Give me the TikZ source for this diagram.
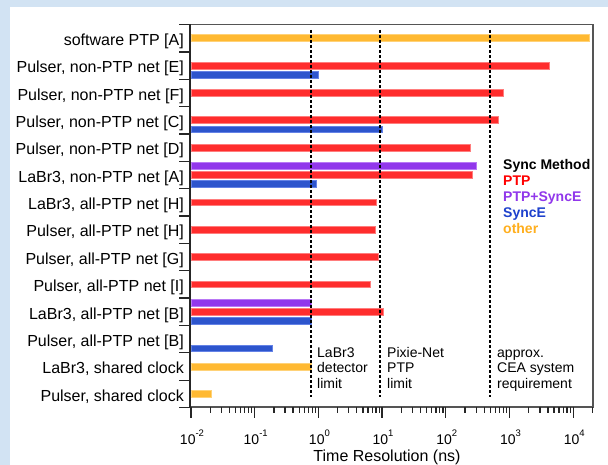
\documentclass[tikz,border=0pt]{standalone}
\usepackage{fontspec}
\setmainfont{Liberation Sans}
\definecolor{bgblue}{RGB}{210,227,243}
\definecolor{cptp}{RGB}{255,45,45}
\definecolor{cptpl}{RGB}{255,125,125}
\definecolor{cboth}{RGB}{145,55,235}
\definecolor{cbothl}{RGB}{185,120,245}
\definecolor{csync}{RGB}{45,85,205}
\definecolor{csyncl}{RGB}{100,130,230}
\definecolor{cother}{RGB}{255,185,50}
\definecolor{cotherl}{RGB}{255,210,120}
\definecolor{framegray}{RGB}{85,85,85}
% x position of a value given as log10(t/ns)
\newcommand{\lx}[1]{191+63.7*(#1+2)}
% bar: style, row, slot (0 top, 1 middle, 2 bottom), log10 of end value
\newcommand{\hbarplot}[4]{\draw[#1] (191,{24.5+27.36*#2+9.12*#3+1.2}) rectangle ({\lx{#4}},{24.5+27.36*#2+9.12*#3+8.0});}
\begin{document}
\begin{tikzpicture}[x=1pt,y=-1pt,
  catlabel/.style={anchor=base east, inner sep=0pt, font=\fontsize{16}{16}\selectfont},
  note/.style={anchor=base west, inner sep=0pt, font=\fontsize{14}{14}\selectfont},
  legtext/.style={anchor=base west, inner sep=0pt, font=\fontsize{14}{14}\selectfont\bfseries},
  ticklabel/.style={anchor=base, inner sep=0pt, font=\fontsize{14}{14}\selectfont},
  barP/.style={fill=cptp, draw=cptpl, line width=0.8pt},
  barPS/.style={fill=cboth, draw=cbothl, line width=0.8pt},
  barS/.style={fill=csync, draw=csyncl, line width=0.8pt},
  barO/.style={fill=cother, draw=cotherl, line width=0.8pt},
  limitline/.style={black, line width=2.1pt, dash pattern=on 3.2pt off 1.8pt},
  axisline/.style={black!85, line width=1.3pt}
]
\useasboundingbox (0,0) rectangle (608,465);
% slide background and white panel
\fill[bgblue] (0,0) rectangle (608,465);
\fill[white] (10,7) rectangle (608,465);

% category labels, one per row
\foreach \i/\t in {0/software PTP [A],
                   1/{Pulser, non-PTP net [E]},
                   2/{Pulser, non-PTP net [F]},
                   3/{Pulser, non-PTP net [C]},
                   4/{Pulser, non-PTP net [D]},
                   5/{LaBr3, non-PTP net [A]},
                   6/{LaBr3, all-PTP net [H]},
                   7/{Pulser, all-PTP net [H]},
                   8/{Pulser, all-PTP net [G]},
                   9/{Pulser, all-PTP net [I]},
                   10/{LaBr3, all-PTP net [B]},
                   11/{Pulser, all-PTP net [B]},
                   12/{LaBr3, shared clock},
                   13/{Pulser, shared clock}}
  \node[catlabel] (cat\i) at (184,{24.5+27.36*(\i+0.5)+7.3}) {\t};

% bars
\hbarplot{barO}{0}{1}{4.248}
\hbarplot{barP}{1}{1}{3.631}
\hbarplot{barS}{1}{2}{0.0}
\hbarplot{barP}{2}{1}{2.898}
\hbarplot{barP}{3}{1}{2.830}
\hbarplot{barS}{3}{2}{1.003}
\hbarplot{barP}{4}{1}{2.380}
\hbarplot{barPS}{5}{0}{2.485}
\hbarplot{barP}{5}{1}{2.422}
\hbarplot{barS}{5}{2}{-0.027}
\hbarplot{barP}{6}{1}{0.915}
\hbarplot{barP}{7}{1}{0.900}
\hbarplot{barP}{8}{1}{0.936}
\hbarplot{barP}{9}{1}{0.810}
\hbarplot{barPS}{10}{0}{-0.111}
\hbarplot{barP}{10}{1}{1.019}
\hbarplot{barS}{10}{2}{-0.111}
\hbarplot{barS}{11}{2}{-0.724}
\hbarplot{barO}{12}{1}{-0.111}
\hbarplot{barO}{13}{1}{-1.675}

% limit lines
\coordinate (l1t) at ({\lx{-0.111}},30);
\coordinate (l1b) at ({\lx{-0.111}},397);
\coordinate (l2t) at ({\lx{0.972}},30);
\coordinate (l2b) at ({\lx{0.972}},397);
\coordinate (l3t) at ({\lx{2.689}},30);
\coordinate (l3b) at ({\lx{2.689}},397);
\draw[limitline] (l1t) -- (l1b);
\draw[limitline] (l2t) -- (l2b);
\draw[limitline] (l3t) -- (l3b);

% limit notes
\node[note] (n1a) at (317,357) {LaBr3};
\node[note] (n1b) at (317,372.5) {detector};
\node[note] (n1c) at (317,388) {limit};
\node[note] (n2a) at (387,357) {Pixie-Net};
\node[note] (n2b) at (387,372.5) {PTP};
\node[note] (n2c) at (387,388) {limit};
\node[note] (n3a) at (497,357) {approx.};
\node[note] (n3b) at (497,372.5) {CEA system};
\node[note] (n3c) at (497,388) {requirement};

% legend
\node[legtext, text=black] (legh) at (503,170) {Sync Method};
\node[legtext, text=red] (leg1) at (503,185.8) {PTP};
\node[legtext, text=cboth] (leg2) at (503,201.6) {PTP+SyncE};
\node[legtext, text={rgb,255:red,30;green,65;blue,205}] (leg3) at (503,217.4) {SyncE};
\node[legtext, text={rgb,255:red,255;green,175;blue,30}] (leg4) at (503,233.2) {other};

% frame
\draw[framegray, line width=1.3pt] (190,24.5) -- (593,24.5) -- (593,407) -- (190,407);
\draw[axisline] (190,24.5) -- (190,407.5);

% category ticks
\foreach \i in {0,...,14}
  \draw[axisline] (179,{24.5+27.36*\i}) -- (190,{24.5+27.36*\i});

% log axis ticks
\foreach \d in {-2,...,4}
  \draw[axisline] ({\lx{\d}},407) -- ({\lx{\d}},417.5);
\foreach \d in {-2,...,3}
  \foreach \m in {2,...,9}
    \draw[axisline] ({\lx{\d+log10(\m)}},407) -- ({\lx{\d+log10(\m)}},412.5);
\draw[axisline] ({\lx{4+log10(2)}},407) -- ({\lx{4+log10(2)}},412.5);

% decade labels
\foreach \d/\e in {-2/-2,-1/-1,0/0,1/1,2/2,3/3,4/4}
  \node[ticklabel] (tk\d) at ({\lx{\d}+1},444) {10\raisebox{8pt}{\fontsize{9.5}{9.5}\selectfont\e}};

% axis title
\node[anchor=base, inner sep=0pt, font=\fontsize{16}{16}\selectfont] (xtitle) at (387,461.5) {Time Resolution (ns)};
\end{tikzpicture}
\end{document}
